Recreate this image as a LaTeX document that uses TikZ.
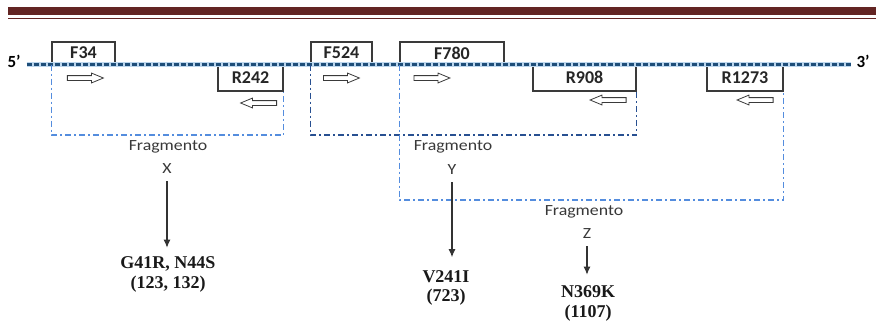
\documentclass[tikz,border=0pt]{standalone}
\usepackage{fontspec}
\setsansfont{Carlito}
\newfontfamily\fragfont{Carlito}[FakeStretch=1.15]
\newfontfamily\mutfont{Liberation Serif}
\usetikzlibrary{arrows.meta,positioning,shapes.arrows}
\definecolor{headred}{RGB}{99,37,35}
\definecolor{navy}{RGB}{31,78,121}
\definecolor{paleblue}{RGB}{189,215,238}
\definecolor{fraglight}{RGB}{84,141,222}
\definecolor{fragdark}{RGB}{40,80,145}
\definecolor{boxgray}{RGB}{58,58,58}
\definecolor{txtgray}{RGB}{56,56,56}

\begin{document}
\begin{tikzpicture}[
  x=1pt, y=-1pt, >=Latex,
  primer/.style={draw=boxgray, line width=1.1pt, fill=white, inner sep=0pt,
                 text=black!85, font=\sffamily\bfseries\fontsize{18}{20}\selectfont},
  fwd/.style={primer, minimum height=22pt},
  rev/.style={primer, minimum height=27pt},
  dirR/.style={single arrow, draw=boxgray, line width=0.8pt,
               inner xsep=0pt, inner ysep=2pt, minimum height=36pt,
               single arrow head extend=2.5pt, single arrow tip angle=45},
  dirL/.style={dirR, shape border rotate=180},
  fragline/.style={line width=1.5pt, dash pattern=on 6pt off 3pt on 2pt off 3pt},
  frag/.style={inner sep=0pt, text=txtgray, font=\fragfont\fontsize{15.5}{18}\selectfont},
  mut/.style={inner sep=0pt, align=center, text=black!90,
              font=\mutfont\bfseries\fontsize{18}{19.5}\selectfont},
  end/.style={inner sep=0pt, font=\sffamily\bfseries\fontsize{17}{20}\selectfont},
  res/.style={->, draw=black!80, line width=1.1pt, shorten <=7pt,
              arrows={-Latex[length=8pt, width=7pt]}}
]
\useasboundingbox (0,0) rectangle (876,322);

% header rule
\fill[headred] (8,7) rectangle (876,15);
\draw[headred, line width=1.3pt] (8,18.7) -- (876,18.7);

% primers
\node[fwd, minimum width=63pt]  (F34)   at (83.5,53)  {F34};
\node[rev, minimum width=65pt]  (R242)  at (250.5,77.5) {R242};
\node[fwd, minimum width=61pt]  (F524)  at (341.5,53) {F524};
\node[fwd, minimum width=104pt] (F780)  at (452,53)   {F780};
\node[rev, minimum width=103pt] (R908)  at (584.5,77.5) {R908};
\node[rev, minimum width=76pt]  (R1273) at (745,77.5) {R1273};

\node[dirR] (aF34)   at (82.5,78)  {};
\node[dirR] (aF524)  at (338.5,78) {};
\node[dirR] (aF780)  at (429,78)   {};
\node[dirL] (aR242)  at (261.5,103) {};
\node[dirL] (aR908)  at (611,100)  {};
\node[dirL] (aR1273) at (758,100)  {};

% strand
\node[end] (p5) at (14,61) {5'};
\node[end] (p3) at (863,61) {3'};
\draw[paleblue, line width=4.5pt, shorten <=6pt, shorten >=5pt] (p5.east |- F34.south) -- (p3.west |- F34.south);
\draw[navy, line width=3.2pt, dash pattern=on 5pt off 2pt, shorten <=6pt, shorten >=5pt]
  (p5.east |- F34.south) -- (p3.west |- F34.south);

% fragments
\coordinate (lowXY) at (0,135);
\coordinate (lowZ) at (0,200);
\draw[fragline, fraglight] (F34.south west) -- (F34.south west |- lowXY) -| (R242.south east);
\draw[fragline, fragdark] (F524.south west) -- (F524.south west |- lowXY) -| (R908.south east);
\draw[fragline, fraglight] (F780.south west) -- (F780.south west |- lowZ) -| (R1273.south east);

\node[frag] (fX) at (168,147) {Fragmento};
\node[frag] (lX) at (167,169) {X};
\node[frag] (fY) at (453,147) {Fragmento};
\node[frag] (lY) at (452,170) {Y};
\node[frag] (fZ) at (584,212) {Fragmento};
\node[frag] (lZ) at (587,234) {Z};

% mutations
\node[mut] (mX) at (168,274.5) {G41R, N44S\\(123, 132)};
\node[mut] (mY) at (446,288)   {V241I\\(723)};
\node[mut] (mZ) at (588,303.5) {N369K\\(1107)};

\draw[res, shorten >=9pt]  (lX) -- (lX |- mX.north);
\draw[res, shorten >=13pt] (lY) -- (lY |- mY.north);
\draw[res, shorten >=11pt] (lZ) -- (lZ |- mZ.north);
\end{tikzpicture}
\end{document}
